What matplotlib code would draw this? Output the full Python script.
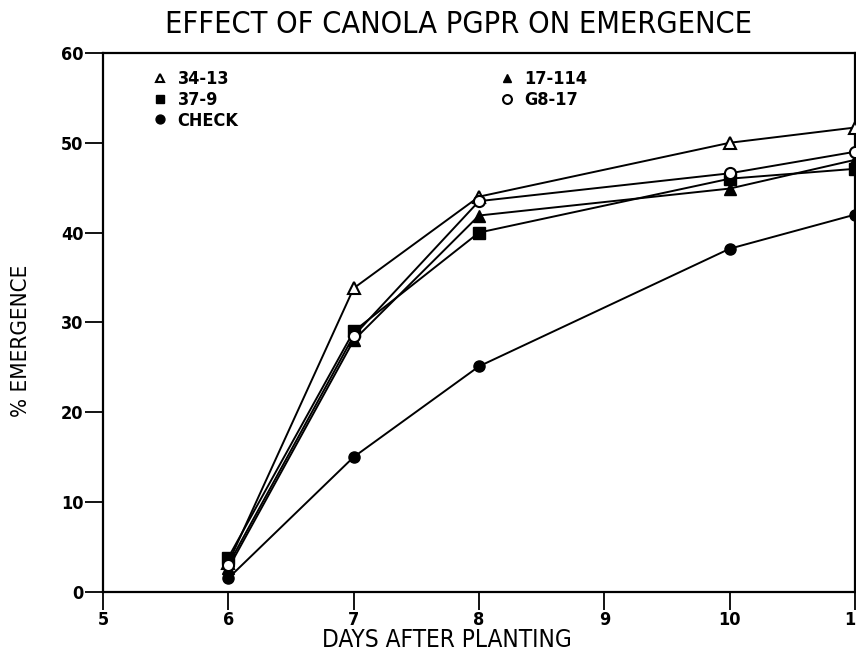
import matplotlib
matplotlib.use("Agg")
import matplotlib.pyplot as plt

days = [6, 7, 8, 10, 11]
s_34_13 = [3.2, 33.8, 44.0, 50.0, 51.7]
s_37_9 = [3.8, 29.0, 40.0, 46.0, 47.1]
s_check = [1.5, 15.0, 25.1, 38.2, 42.0]
s_17_114 = [2.6, 28.0, 41.9, 44.9, 48.1]
s_g8_17 = [3.0, 28.5, 43.5, 46.6, 49.0]

x_ticks = [5, 6, 7, 8, 9, 10, 11]
y_ticks = [0, 10, 20, 30, 40, 50, 60]

plt.rcParams['font.family'] = ['DejaVu Sans']
plt.rcParams['font.stretch'] = 'condensed'

fig = plt.figure(figsize=(8.56, 6.5), dpi=100)
ax = fig.add_axes([103/856, 1-591.7/650, 752/856, (591.7-53)/650])

lw = 1.4
ax.plot(days, s_34_13, color='black', lw=lw, marker='^', ms=8, mfc='white', mec='black', mew=1.5, clip_on=False, label='34-13', zorder=3)
ax.plot(days, s_37_9, color='black', lw=lw, marker='s', ms=8, mfc='black', mec='black', clip_on=False, label='37-9', zorder=3)
ax.plot(days, s_check, color='black', lw=lw, marker='o', ms=8, mfc='black', mec='black', clip_on=False, label='CHECK', zorder=3)
ax.plot(days, s_17_114, color='black', lw=lw, marker='^', ms=8, mfc='black', mec='black', clip_on=False, label='17-114', zorder=3)
ax.plot(days, s_g8_17, color='black', lw=lw, marker='o', ms=8, mfc='white', mec='black', mew=1.5, clip_on=False, label='G8-17', zorder=4)

ax.set_xlim(5, 11)
ax.set_ylim(0, 60)
ax.set_xticks(x_ticks)
ax.set_yticks(y_ticks)
ax.tick_params(direction='out', length=13, width=1.3, labelsize=13, pad=1)
for lab in ax.get_xticklabels() + ax.get_yticklabels():
    lab.set_fontweight('bold')
for sp in ax.spines.values():
    sp.set_linewidth(1.6)

leg = ax.legend(ncol=2, loc='upper left', bbox_to_anchor=(0.056, 0.988), frameon=False,
                fontsize=13, handlelength=0.5, handletextpad=0.7, columnspacing=14.6,
                labelspacing=0.15, markerscale=0.8, borderaxespad=0.2)
for h in leg.legend_handles:
    h.set_linestyle('none')
for t in leg.get_texts():
    t.set_fontweight('bold')

fig.text(0.536, 0.963, 'EFFECT OF CANOLA PGPR ON EMERGENCE', ha='center', va='center', fontsize=22)
fig.text(0.522, 0.016, 'DAYS AFTER PLANTING', ha='center', va='center', fontsize=17.5)
fig.text(0.025, 0.475, '% EMERGENCE', ha='center', va='center', rotation=90, fontsize=16)

fig.savefig('out.png', dpi=100)
